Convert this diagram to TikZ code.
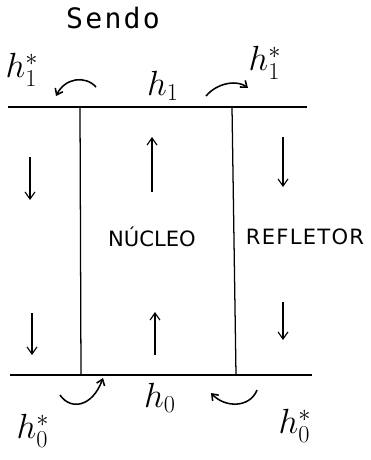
\documentclass[tikz,border=0pt]{standalone}
\usepackage{fontspec}
\setmainfont{DejaVu Sans}
\setmonofont{DejaVu Sans Mono}
\usetikzlibrary{arrows.meta}
\begin{document}
\begin{tikzpicture}[x=0.025cm,y=-0.025cm,
  wall/.style={line width=0.9pt},
  flux/.style={line width=0.8pt,-{Straight Barb[length=5pt,width=7pt]}},
  curv/.style={line width=1.1pt,-{Straight Barb[length=4pt,width=6pt]}},
  lab/.style={font=\fontsize{24}{26}\selectfont},
  reg/.style={font=\fontsize{15}{17}\selectfont}]
\useasboundingbox (0,0) rectangle (370,460);
% walls
\coordinate (tl) at (8,107); \coordinate (tr) at (307,107);
\coordinate (bl) at (10,375); \coordinate (br) at (312,375);
\coordinate (c1t) at (80,107); \coordinate (c1b) at (81,375);
\coordinate (c2t) at (232,107); \coordinate (c2b) at (236,375);
\draw[wall] (tl) -- (tr);
\draw[wall] (bl) -- (br);
\draw[wall] (c1t) -- (c1b);
\draw[wall] (c2t) -- (c2b);
% labels
\node[font=\ttfamily\fontsize{20}{22}\selectfont] (sendo) at (113,18) {\addfontfeature{LetterSpace=8}Sendo};
\node[lab] (h1sl) at (22,70) {$h_1^{*}$};
\node[lab] (h1) at (163,86) {$h_1$};
\node[lab] (h1sr) at (265,63) {$h_1^{*}$};
\node[lab] (h0) at (160,398) {$h_0$};
\node[lab] (h0sl) at (33,431) {$h_0^{*}$};
\node[lab] (h0sr) at (295,426) {$h_0^{*}$};
\node[reg] (nuc) at (152,237) {NÚCLEO};
\node[reg] (ref) at (305,237) {\addfontfeature{LetterSpace=6}REFLETOR};
% curved arrows
\coordinate (a1s) at (96,87); \coordinate (a1e) at (56,96);
\draw[curv] (a1s) .. controls (85,75) and (65,78) .. (a1e);
\coordinate (a2s) at (206,96); \coordinate (a2e) at (248,88);
\draw[curv] (a2s) .. controls (218,82) and (238,80) .. (a2e);
\coordinate (a3s) at (60,395); \coordinate (a3e) at (103,378);
\draw[curv] (a3s) .. controls (70,410) and (92,408) .. (a3e);
\coordinate (a4s) at (257,390); \coordinate (a4e) at (211,393);
\draw[curv] (a4s) .. controls (250,408) and (225,408) .. (a4e);
% flux arrows
\coordinate (f1s) at (30,157); \coordinate (f1e) at (30,200);
\coordinate (f2s) at (32,313); \coordinate (f2e) at (32,355);
\coordinate (f3s) at (152,192); \coordinate (f3e) at (152,137);
\coordinate (f4s) at (155,355); \coordinate (f4e) at (155,312);
\coordinate (f5s) at (283,137); \coordinate (f5e) at (283,187);
\coordinate (f6s) at (283,302); \coordinate (f6e) at (283,340);
\draw[flux] (f1s) -- (f1e);
\draw[flux] (f2s) -- (f2e);
\draw[flux] (f3s) -- (f3e);
\draw[flux] (f4s) -- (f4e);
\draw[flux] (f5s) -- (f5e);
\draw[flux] (f6s) -- (f6e);
\end{tikzpicture}
\end{document}
